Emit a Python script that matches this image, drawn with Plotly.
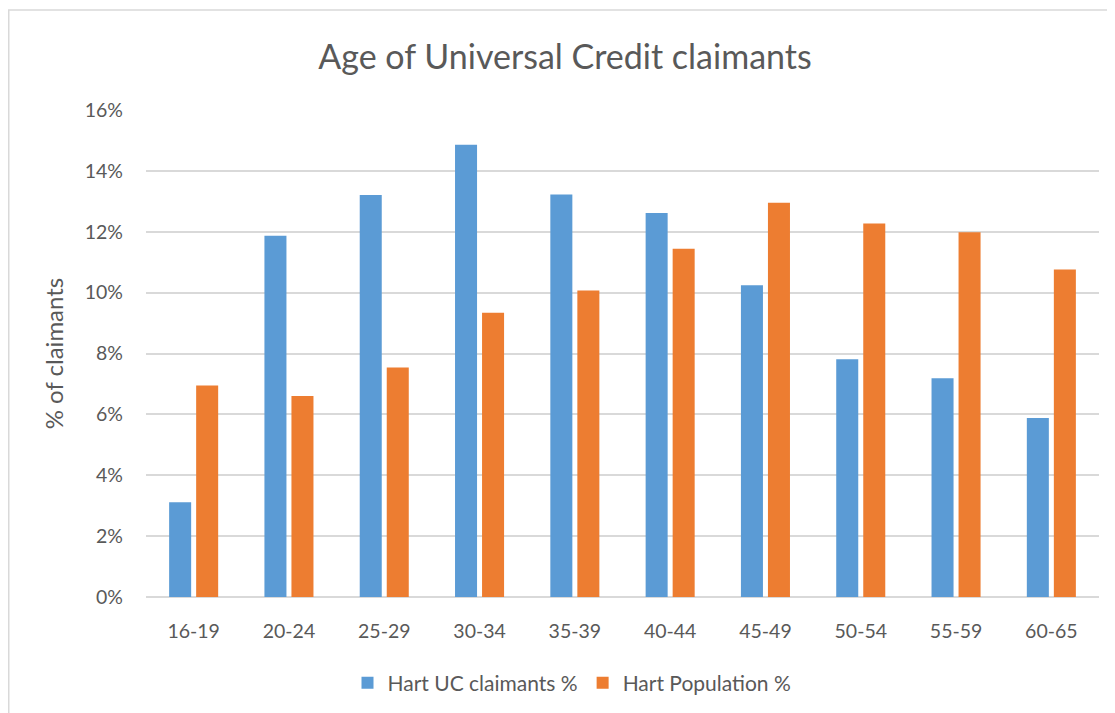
import plotly.graph_objects as go

categories = ["16-19", "20-24", "25-29", "30-34", "35-39", "40-44", "45-49", "50-54", "55-59", "60-65"]
uc_claimants = [3.11, 11.87, 13.21, 14.86, 13.22, 12.62, 10.24, 7.81, 7.19, 5.88]
population = [6.95, 6.60, 7.54, 9.34, 10.07, 11.44, 12.95, 12.27, 11.98, 10.76]
uc_claimants = [v / 100 for v in uc_claimants]
population = [v / 100 for v in population]
y_ticks = [0, 0.02, 0.04, 0.06, 0.08, 0.10, 0.12, 0.14, 0.16]

FONT = "Lato, 'Open Sans', sans-serif"
GREY = "#595959"

fig = go.Figure()
fig.add_trace(go.Bar(x=categories, y=uc_claimants, name="Hart UC claimants %",
                     marker=dict(color="#5b9bd5", line=dict(width=0))))
fig.add_trace(go.Bar(x=categories, y=population, name="Hart Population %",
                     marker=dict(color="#ed7d31", line=dict(width=0))))

OFF = 8  # page body margin
W, H = 1115, 713
ml, mt = 146 - OFF, 110 - OFF
mr = W - (1099 - OFF)
mb = H - (597 - OFF)
pw = W - ml - mr
ph = H - mt - mb
fig.update_layout(
    width=W, height=H,
    margin=dict(l=ml, r=mr, t=mt, b=mb),
    paper_bgcolor="white", plot_bgcolor="white",
    barmode="group", bargap=0.433, bargroupgap=0.185,
    font=dict(family=FONT, color=GREY),
    title=dict(text="Age of Universal Credit claimants", x=(565 - OFF) / W, xanchor="center",
               y=1 - (57 - OFF) / H, yanchor="middle", font=dict(size=34, color=GREY, family=FONT)),
    xaxis=dict(tickfont=dict(size=19.5, color=GREY), showgrid=False, showline=False,
               ticks="", ticklabelstandoff=20),
    yaxis=dict(range=[0, 0.16], tickvals=y_ticks, tickformat=".0%",
               tickfont=dict(size=19.5, color=GREY), gridcolor="#d9d9d9", gridwidth=1.5,
               zeroline=True, zerolinecolor="#d9d9d9", zerolinewidth=1.5,
               ticks="", ticklabelstandoff=22,
               title=dict(text="% of claimants", font=dict(size=24, color=GREY), standoff=14)),
    legend=dict(orientation="h", x=(572 - ml - OFF) / pw, xanchor="center",
                y=-(683 - 597) / ph, yanchor="middle",
                font=dict(size=21, color=GREY), itemwidth=30, traceorder="normal"),
)

fig.add_shape(type="rect", xref="paper", yref="paper",
              x0=(0.75 - ml) / pw, x1=(W + 10 - ml) / pw,
              y0=-(H + 10 - (597 - OFF)) / ph, y1=1 + (mt - (10 - OFF)) / ph,
              line=dict(color="#d9d9d9", width=1.5), fillcolor="rgba(0,0,0,0)", layer="below")

fig.write_html("out.html")
